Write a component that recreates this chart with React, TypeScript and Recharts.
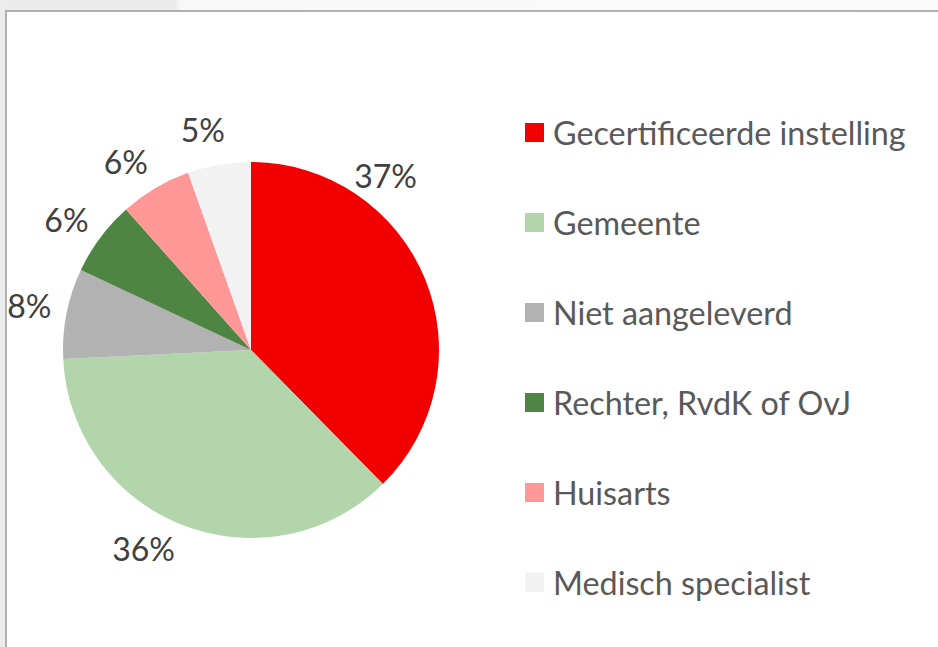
import { PieChart, Pie, Cell, Legend } from "recharts";

const categories = [
  "Gecertificeerde instelling",
  "Gemeente",
  "Niet aangeleverd",
  "Rechter, RvdK of OvJ",
  "Huisarts",
  "Medisch specialist",
];
const shares = [37.4, 36.4, 7.7, 6.4, 6.1, 5.4];

const COLORS = ["#F20000", "#B3D5AB", "#B2B2B2", "#4E8542", "#FF9797", "#F2F2F2"];
// Excel's best-fit placement moves some labels off their slice middle (degrees, ccw)
const LABEL_ANGLE_NUDGE = [30, -7, 0, 1.5, 3, 2.5];
const LABEL_GAP = 38;

const FONT = "Lato, 'Open Sans', sans-serif";
const RAD = Math.PI / 180;

const data = categories.map((name, i) => ({ name, value: shares[i] }));

function renderLabel(props: any) {
  const { cx, cy, midAngle, outerRadius, index, value } = props;
  const angle = midAngle + LABEL_ANGLE_NUDGE[index];
  const r = outerRadius + LABEL_GAP - (index === 0 ? 6 : 0);
  return (
    <text
      x={cx + r * Math.cos(-angle * RAD)}
      y={cy + r * Math.sin(-angle * RAD)}
      textAnchor="middle"
      dominantBaseline="central"
      fill="#404040"
      fontSize={32}
      fontFamily={FONT}
    >
      {`${Math.round(value)}%`}
    </text>
  );
}

function LegendContent(props: any) {
  const items = [...(props.payload || [])].sort(
    (a: any, b: any) => categories.indexOf(a.value) - categories.indexOf(b.value)
  );
  return (
    <div>
      {items.map((p: any, i: number) => (
        <div key={i} style={{ height: 90, display: "flex", alignItems: "center" }}>
          <span style={{ width: 19, height: 19, background: p.color, marginRight: 9, display: "inline-block" }} />
          <span style={{ fontFamily: FONT, fontSize: 32.3, color: "#595959" }}>{p.value}</span>
        </div>
      ))}
    </div>
  );
}

export default function App() {
  return (
    <div style={{ position: "absolute", left: 0, top: 0, width: 938, height: 647, background: "#fff", overflow: "hidden" }}>
      <div style={{ position: "absolute", left: 0, top: 0, width: 938, height: 10, background: "linear-gradient(to right, #ebebeb 0px, #ebebeb 175px, #f8f8f8 180px, #fbfbfb 938px)" }} />
      <div style={{ position: "absolute", left: 0, top: 0, width: 5, height: 647, background: "#ececec" }} />
      <div style={{ position: "absolute", left: 5, top: 10, width: 1000, height: 1000, borderTop: "2px solid #b0b0b0", borderLeft: "2px solid #b0b0b0" }} />
      <div style={{ position: "absolute", left: 0, top: 0 }}>
        <PieChart width={938} height={647} margin={{ top: 0, right: 0, bottom: 0, left: 0 }}>
          <Pie
            data={data}
            dataKey="value"
            nameKey="name"
            cx={251}
            cy={350}
            outerRadius={188}
            startAngle={90}
            endAngle={-270}
            stroke="none"
            label={renderLabel}
            labelLine={false}
            isAnimationActive={false}
          >
            {data.map((_, i) => (
              <Cell key={i} fill={COLORS[i]} />
            ))}
          </Pie>
          <Legend
            layout="vertical"
            align="right"
            verticalAlign="top"
            content={<LegendContent />}
            wrapperStyle={{ position: "absolute", left: 525, top: 87, width: 410 }}
          />
        </PieChart>
      </div>
    </div>
  );
}
